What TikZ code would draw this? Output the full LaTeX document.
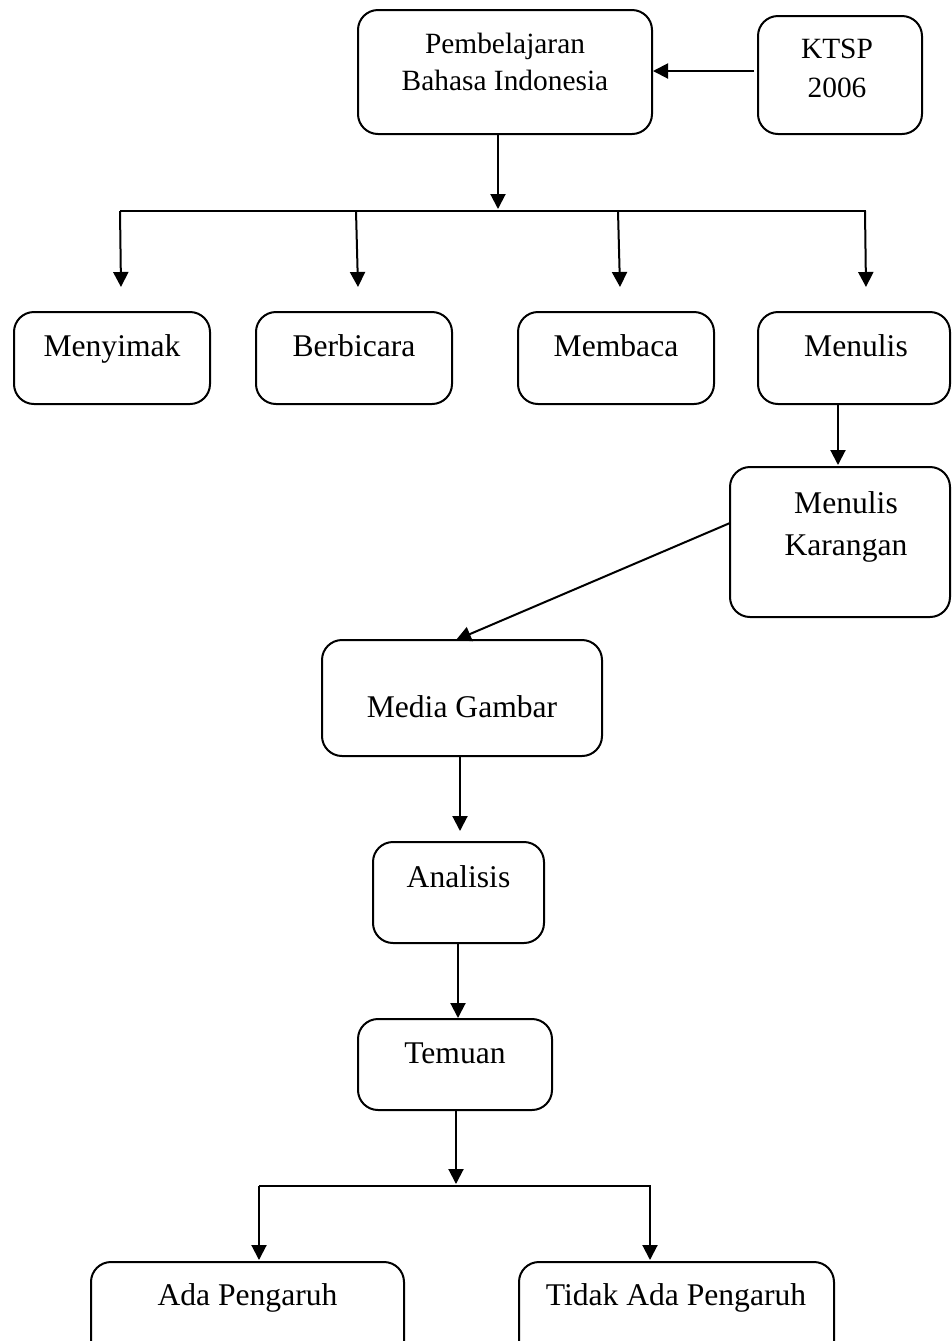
\documentclass[tikz,border=0pt]{standalone}
\usepackage{fontspec}
\setmainfont{Liberation Serif}
\usetikzlibrary{arrows.meta,fit}
\begin{document}
\begin{tikzpicture}[x=0.5pt,y=-0.5pt,
  box/.style={draw,line width=1pt,rounded corners=10pt,inner sep=0pt},
  txt/.style={font=\fontsize{15.8}{21}\selectfont,anchor=base,inner sep=0pt,align=center},
  stxt/.style={font=\fontsize{14.7}{18.5}\selectfont,anchor=base,inner sep=0pt,align=center},
  ktxt/.style={font=\fontsize{14.7}{19.5}\selectfont,anchor=base,inner sep=0pt,align=center},
  arr/.style={line width=1pt,-{Triangle[length=7.5pt,width=7.5pt]}},
  ln/.style={line width=1pt}]
\useasboundingbox (0,0) rectangle (952,1341);
% boxes
\node[box,fit={(358,10)(652,134)}] (pem) {};
\node[box,fit={(758,16)(922,134)}] (ktsp) {};
\node[box,fit={(14,312)(210,404)}] (menyimak) {};
\node[box,fit={(256,312)(452,404)}] (berbicara) {};
\node[box,fit={(518,312)(714,404)}] (membaca) {};
\node[box,fit={(758,312)(950,404)}] (menulis) {};
\node[box,fit={(730,467)(950,617)}] (karangan) {};
\node[box,fit={(322,640)(602,756)}] (media) {};
\node[box,fit={(373,842)(544,943)}] (analisis) {};
\node[box,fit={(358,1019)(552,1110)}] (temuan) {};
\node[box,fit={(91,1262)(404,1370)}] (ada) {};
\node[box,fit={(519,1262)(834,1370)}] (tidak) {};
% texts (base anchor = baseline of last line)
\node[stxt] (pemT) at (505,90) {Pembelajaran\\Bahasa Indonesia};
\node[ktxt] (ktspT) at (837,97) {KTSP\\2006};
\node[txt] (menyimakT) at (112,356) {Menyimak};
\node[txt] (berbicaraT) at (354,356) {Berbicara};
\node[txt] (membacaT) at (616,356) {Membaca};
\node[txt] (menulisT) at (856,356) {Menulis};
\node[txt] (karanganT) at (846,555) {Menulis\\Karangan};
\node[txt] (mediaT) at (462,717) {Media Gambar};
\node[txt] (analisisT) at (458.5,887) {Analisis};
\node[txt] (temuanT) at (455,1063) {Temuan};
\node[txt] (adaT) at (247.5,1305) {Ada Pengaruh};
\node[txt] (tidakT) at (676,1305) {Tidak Ada Pengaruh};
% connectors
\coordinate (k1) at (754,71);
\draw[arr] (k1) -- (pem.east |- k1);
\coordinate (p1) at (498,209);
\draw[arr] (pem.south -| p1) -- (p1);
\coordinate (bL) at (120,211);
\coordinate (bR) at (866,211);
\draw[ln] (bL) -- (bR);
\coordinate (d1) at (121,287);
\coordinate (d2) at (358,287);
\coordinate (d3) at (620,287);
\coordinate (d4) at (866,287);
\draw[arr] (bL) -- (d1);
\draw[arr] (356,211) -- (d2);
\draw[arr] (618,211) -- (d3);
\draw[arr] (865,211) -- (d4);
\coordinate (m1) at (838,465);
\draw[arr] (menulis.south -| m1) -- (m1);
\coordinate (kk) at (730,523);
\coordinate (md) at (456,640);
\draw[arr] (kk) -- (md);
\coordinate (a1) at (460,831);
\draw[arr] (media.south -| a1) -- (a1);
\coordinate (t1) at (458,1018);
\draw[arr] (analisis.south -| t1) -- (t1);
\coordinate (c1) at (456,1184);
\draw[arr] (temuan.south -| c1) -- (c1);
\coordinate (cL) at (259,1186);
\coordinate (cR) at (651,1186);
\draw[ln] (cL) -- (cR);
\coordinate (e1) at (259,1260);
\coordinate (e2) at (650,1260);
\draw[arr] (cL) -- (e1);
\draw[arr] (650,1186) -- (e2);
\end{tikzpicture}
\end{document}
